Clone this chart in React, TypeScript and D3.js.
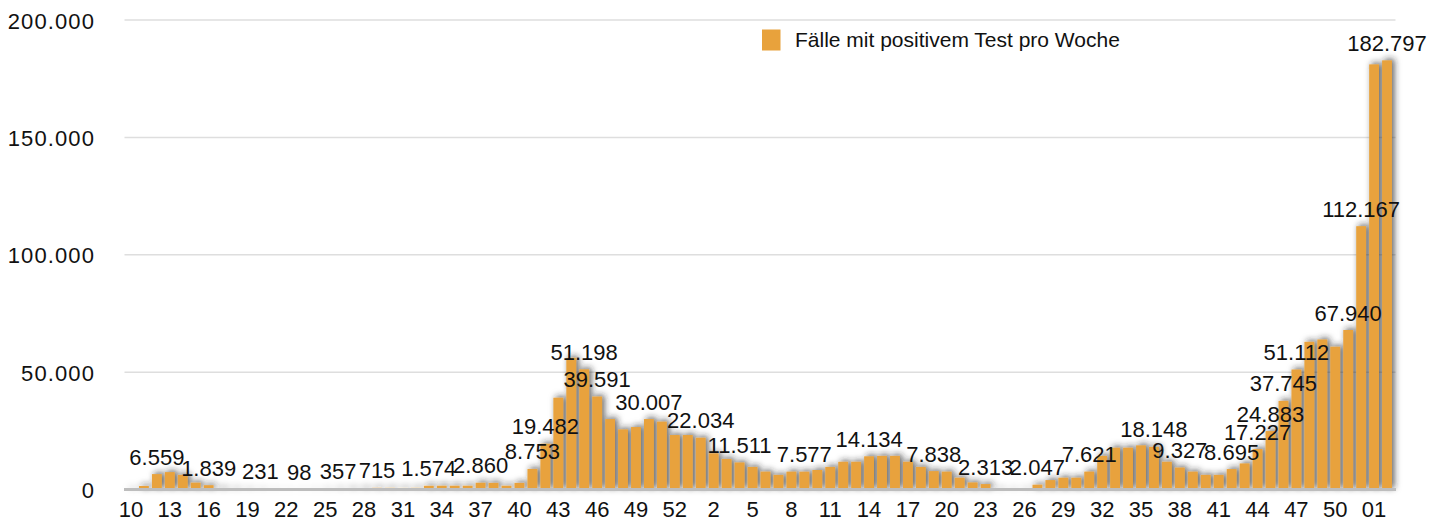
import React from "react";
import * as d3 from "d3";

// Week of each bar (2020 w10 … 2022 w02)
const weeks: string[] = [
  "10","11","12","13","14","15","16","17","18","19","20","21","22","23","24","25","26","27","28","29",
  "30","31","32","33","34","35","36","37","38","39","40","41","42","43","44","45","46","47","48","49",
  "50","51","52","53",
  "1","2","3","4","5","6","7","8","9","10","11","12","13","14","15","16","17","18","19","20",
  "21","22","23","24","25","26","27","28","29","30","31","32","33","34","35","36","37","38","39","40",
  "41","42","43","44","45","46","47","48","49","50","51","52",
  "01","02",
];

// Positive tests per week
const cases: number[] = [
  300, 1500, 6559, 7400, 6200, 2900, 1839, 600, 400, 300,
  231, 150, 110, 98, 150, 250, 357, 500, 600, 715,
  700, 650, 700, 1574, 1600, 1600, 1600, 2860, 2800, 1600,
  2800, 8753, 19482, 39100, 56100, 51198, 39591, 30000, 25600, 26600,
  30007, 28900, 23200, 23200,
  22034, 15400, 13000, 11511, 9600, 7600, 6200, 7600, 7577, 8300,
  9600, 11800, 11800, 14134, 14300, 14300, 11800, 9600, 7838, 7600,
  5000, 3000, 2313, 350, 250, 300, 2047, 4000, 5000, 5000,
  7621, 14300, 17800, 17800, 18800, 18148, 11800, 9327, 7600, 6200,
  6200, 8695, 11100, 17227, 24883, 37745, 51112, 62900, 63900, 60800,
  67940, 112167,
  181100, 182797,
];

// Bars that carry a value label (by position)
const labelledBars: number[] = [
  2, 6, 10, 13, 16, 19, 23, 27, 31, 32, 35, 36, 40, 44, 47, 52, 57, 62, 66, 70,
  74, 79, 81, 85, 87, 88, 89, 90, 94, 95, 97,
];

// Shown x-axis labels (every third week)
const xTickLabels: string[] = [
  "10","13","16","19","22","25","28","31","34","37","40","43","46","49","52",
  "2","5","8","11","14","17","20","23","26","29","32","35","38","41","44","47","50","01",
];

const yTicks: number[] = [0, 50000, 100000, 150000, 200000];
const legendLabel = "Fälle mit positivem Test pro Woche";

const BAR = "#E8A23C";
const FONT = "'Liberation Sans', Arial, Helvetica, sans-serif";

const de = d3.formatLocale({ decimal: ",", thousands: ".", grouping: [3], currency: ["", "€"] });
const fmt = de.format(",");

export default function App() {
  const W = 1441, H = 521;
  const keys = weeks.map((_, i) => String(i));
  const x = d3.scaleBand<string>().domain(keys).range([124.5, 1393.5]).paddingInner(0.24).paddingOuter(0.12);
  const y = d3.scaleLinear().domain([0, 200000]).range([489.5, 20]);
  const bw = x.bandwidth();
  const cx = (i: number) => (x(String(i)) as number) + bw / 2;

  const tickIdx = xTickLabels.map((_, k) => k * 3);

  return (
    <div style={{ position: "absolute", left: 0, top: 0, width: W, height: H, background: "#fff" }}>
      <svg width={W} height={H} style={{ display: "block", fontFamily: FONT }}>
        <defs>
          <filter id="sh" x="-20%" y="-20%" width="140%" height="140%">
            <feDropShadow dx="2.5" dy="-1.5" stdDeviation="3" floodColor="#222" floodOpacity="0.7" />
          </filter>
        </defs>
        {yTicks.filter((t) => t > 0).map((t) => (
          <line key={"g" + t} x1={124.5} x2={1395.5} y1={y(t)} y2={y(t)} stroke="#dedede" strokeWidth={1.5} />
        ))}
        {yTicks.map((t) => (
          <text key={"yl" + t} x={95} y={y(t) + 8.5} textAnchor="end" fontSize={22} letterSpacing={1.1} fill="#111">
            {fmt(t)}
          </text>
        ))}
        <g filter="url(#sh)">
          {cases.map((v, i) => (
            <rect key={"b" + i} x={x(String(i))} y={y(v)} width={bw} height={y(0) - y(v)} fill={BAR} />
          ))}
        </g>
        <line x1={124} x2={1396} y1={y(0)} y2={y(0)} stroke="#bdbdbd" strokeWidth={3} />
        {labelledBars.map((i) => (
          <text key={"l" + i} x={cx(i)} y={y(cases[i]) - 9.5} textAnchor="middle" fontSize={22} fill="#111">
            {fmt(cases[i])}
          </text>
        ))}
        {tickIdx.map((i, k) => (
          <text key={"xt" + k} x={cx(i)} y={517} textAnchor="middle" fontSize={22} fill="#111">
            {xTickLabels[k]}
          </text>
        ))}
        <rect x={762} y={29.5} width={18.5} height={21} fill={BAR} />
        <text x={795} y={47} fontSize={21} fill="#111">{legendLabel}</text>
      </svg>
    </div>
  );
}
